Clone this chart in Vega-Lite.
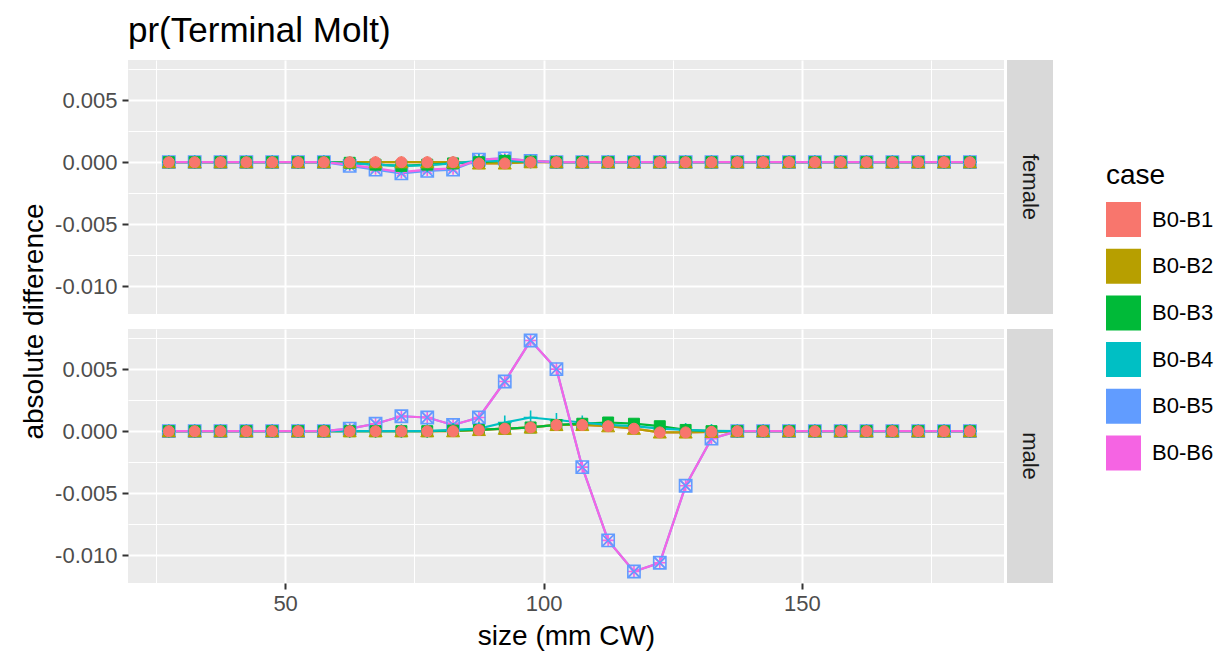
{
  "$schema": "https://vega.github.io/schema/vega-lite/v6.json",
  "padding": {"left": 20, "top": 14, "right": 5, "bottom": 5},
  "title": {"text": "pr(Terminal Molt)", "anchor": "start", "frame": "group", "fontSize": 35, "fontWeight": "normal", "color": "#000000", "font": "Liberation Sans", "offset": 11},
  "data": {"values": [
    {"sex":"female","size":27.5,"B0-B1":0,"B0-B2":0,"B0-B3":0,"B0-B4":0,"B0-B5":0,"B0-B6":0},
    {"sex":"female","size":32.5,"B0-B1":0,"B0-B2":0,"B0-B3":0,"B0-B4":0,"B0-B5":0,"B0-B6":0},
    {"sex":"female","size":37.5,"B0-B1":0,"B0-B2":0,"B0-B3":0,"B0-B4":0,"B0-B5":0,"B0-B6":0},
    {"sex":"female","size":42.5,"B0-B1":0,"B0-B2":0,"B0-B3":0,"B0-B4":0,"B0-B5":0,"B0-B6":0},
    {"sex":"female","size":47.5,"B0-B1":0,"B0-B2":0,"B0-B3":0,"B0-B4":0,"B0-B5":0,"B0-B6":0},
    {"sex":"female","size":52.5,"B0-B1":0,"B0-B2":0,"B0-B3":0,"B0-B4":0,"B0-B5":0,"B0-B6":0},
    {"sex":"female","size":57.5,"B0-B1":0,"B0-B2":0,"B0-B3":0,"B0-B4":0,"B0-B5":0,"B0-B6":0},
    {"sex":"female","size":62.5,"B0-B1":0,"B0-B2":0,"B0-B3":-0.00005,"B0-B4":-0.0001,"B0-B5":-0.0003,"B0-B6":-0.0002},
    {"sex":"female","size":67.5,"B0-B1":0,"B0-B2":0,"B0-B3":-0.0002,"B0-B4":-0.0002,"B0-B5":-0.0006,"B0-B6":-0.0005},
    {"sex":"female","size":72.5,"B0-B1":0,"B0-B2":0,"B0-B3":-0.0003,"B0-B4":-0.0003,"B0-B5":-0.0009,"B0-B6":-0.0008},
    {"sex":"female","size":77.5,"B0-B1":0,"B0-B2":0,"B0-B3":-0.0002,"B0-B4":-0.00025,"B0-B5":-0.0007,"B0-B6":-0.0006},
    {"sex":"female","size":82.5,"B0-B1":0,"B0-B2":0,"B0-B3":-0.0001,"B0-B4":-0.0001,"B0-B5":-0.0006,"B0-B6":-0.0005},
    {"sex":"female","size":87.5,"B0-B1":-0.0001,"B0-B2":-0.0001,"B0-B3":0,"B0-B4":0.0001,"B0-B5":0.0002,"B0-B6":0.0002},
    {"sex":"female","size":92.5,"B0-B1":-0.0001,"B0-B2":-0.0001,"B0-B3":0.0001,"B0-B4":0.0001,"B0-B5":0.0003,"B0-B6":0.0003},
    {"sex":"female","size":97.5,"B0-B1":0,"B0-B2":0,"B0-B3":0.00005,"B0-B4":0.00005,"B0-B5":0.0001,"B0-B6":0.0001},
    {"sex":"female","size":102.5,"B0-B1":0,"B0-B2":0,"B0-B3":0,"B0-B4":0,"B0-B5":0,"B0-B6":0},
    {"sex":"female","size":107.5,"B0-B1":0,"B0-B2":0,"B0-B3":0,"B0-B4":0,"B0-B5":0,"B0-B6":0},
    {"sex":"female","size":112.5,"B0-B1":0,"B0-B2":0,"B0-B3":0,"B0-B4":0,"B0-B5":0,"B0-B6":0},
    {"sex":"female","size":117.5,"B0-B1":0,"B0-B2":0,"B0-B3":0,"B0-B4":0,"B0-B5":0,"B0-B6":0},
    {"sex":"female","size":122.5,"B0-B1":0,"B0-B2":0,"B0-B3":0,"B0-B4":0,"B0-B5":0,"B0-B6":0},
    {"sex":"female","size":127.5,"B0-B1":0,"B0-B2":0,"B0-B3":0,"B0-B4":0,"B0-B5":0,"B0-B6":0},
    {"sex":"female","size":132.5,"B0-B1":0,"B0-B2":0,"B0-B3":0,"B0-B4":0,"B0-B5":0,"B0-B6":0},
    {"sex":"female","size":137.5,"B0-B1":0,"B0-B2":0,"B0-B3":0,"B0-B4":0,"B0-B5":0,"B0-B6":0},
    {"sex":"female","size":142.5,"B0-B1":0,"B0-B2":0,"B0-B3":0,"B0-B4":0,"B0-B5":0,"B0-B6":0},
    {"sex":"female","size":147.5,"B0-B1":0,"B0-B2":0,"B0-B3":0,"B0-B4":0,"B0-B5":0,"B0-B6":0},
    {"sex":"female","size":152.5,"B0-B1":0,"B0-B2":0,"B0-B3":0,"B0-B4":0,"B0-B5":0,"B0-B6":0},
    {"sex":"female","size":157.5,"B0-B1":0,"B0-B2":0,"B0-B3":0,"B0-B4":0,"B0-B5":0,"B0-B6":0},
    {"sex":"female","size":162.5,"B0-B1":0,"B0-B2":0,"B0-B3":0,"B0-B4":0,"B0-B5":0,"B0-B6":0},
    {"sex":"female","size":167.5,"B0-B1":0,"B0-B2":0,"B0-B3":0,"B0-B4":0,"B0-B5":0,"B0-B6":0},
    {"sex":"female","size":172.5,"B0-B1":0,"B0-B2":0,"B0-B3":0,"B0-B4":0,"B0-B5":0,"B0-B6":0},
    {"sex":"female","size":177.5,"B0-B1":0,"B0-B2":0,"B0-B3":0,"B0-B4":0,"B0-B5":0,"B0-B6":0},
    {"sex":"female","size":182.5,"B0-B1":0,"B0-B2":0,"B0-B3":0,"B0-B4":0,"B0-B5":0,"B0-B6":0},
    {"sex":"male","size":27.5,"B0-B1":0,"B0-B2":0,"B0-B3":0,"B0-B4":0,"B0-B5":0,"B0-B6":0},
    {"sex":"male","size":32.5,"B0-B1":0,"B0-B2":0,"B0-B3":0,"B0-B4":0,"B0-B5":0,"B0-B6":0},
    {"sex":"male","size":37.5,"B0-B1":0,"B0-B2":0,"B0-B3":0,"B0-B4":0,"B0-B5":0,"B0-B6":0},
    {"sex":"male","size":42.5,"B0-B1":0,"B0-B2":0,"B0-B3":0,"B0-B4":0,"B0-B5":0,"B0-B6":0},
    {"sex":"male","size":47.5,"B0-B1":0,"B0-B2":0,"B0-B3":0,"B0-B4":0,"B0-B5":0,"B0-B6":0},
    {"sex":"male","size":52.5,"B0-B1":0,"B0-B2":0,"B0-B3":0,"B0-B4":0,"B0-B5":0,"B0-B6":0},
    {"sex":"male","size":57.5,"B0-B1":0,"B0-B2":0,"B0-B3":0,"B0-B4":0,"B0-B5":0,"B0-B6":0},
    {"sex":"male","size":62.5,"B0-B1":0,"B0-B2":0,"B0-B3":0,"B0-B4":0,"B0-B5":0.0002,"B0-B6":0.0002},
    {"sex":"male","size":67.5,"B0-B1":0,"B0-B2":0,"B0-B3":0,"B0-B4":0,"B0-B5":0.0006,"B0-B6":0.0006},
    {"sex":"male","size":72.5,"B0-B1":0,"B0-B2":0,"B0-B3":0,"B0-B4":0,"B0-B5":0.0012,"B0-B6":0.0012},
    {"sex":"male","size":77.5,"B0-B1":0,"B0-B2":0,"B0-B3":0,"B0-B4":0,"B0-B5":0.0011,"B0-B6":0.0011},
    {"sex":"male","size":82.5,"B0-B1":0,"B0-B2":0,"B0-B3":0.00005,"B0-B4":0.0001,"B0-B5":0.0005,"B0-B6":0.0005},
    {"sex":"male","size":87.5,"B0-B1":0.0001,"B0-B2":0.0001,"B0-B3":0.0001,"B0-B4":0.0002,"B0-B5":0.0011,"B0-B6":0.0011},
    {"sex":"male","size":92.5,"B0-B1":0.0002,"B0-B2":0.0002,"B0-B3":0.0002,"B0-B4":0.0007,"B0-B5":0.004,"B0-B6":0.004},
    {"sex":"male","size":97.5,"B0-B1":0.0003,"B0-B2":0.0003,"B0-B3":0.0003,"B0-B4":0.0011,"B0-B5":0.0073,"B0-B6":0.0073},
    {"sex":"male","size":102.5,"B0-B1":0.0005,"B0-B2":0.0005,"B0-B3":0.0005,"B0-B4":0.0009,"B0-B5":0.005,"B0-B6":0.005},
    {"sex":"male","size":107.5,"B0-B1":0.0005,"B0-B2":0.0005,"B0-B3":0.0006,"B0-B4":0.0007,"B0-B5":-0.0029,"B0-B6":-0.0029},
    {"sex":"male","size":112.5,"B0-B1":0.0004,"B0-B2":0.0004,"B0-B3":0.0007,"B0-B4":0.0005,"B0-B5":-0.0088,"B0-B6":-0.0088},
    {"sex":"male","size":117.5,"B0-B1":0.0002,"B0-B2":0.0002,"B0-B3":0.0006,"B0-B4":0.0004,"B0-B5":-0.0113,"B0-B6":-0.0113},
    {"sex":"male","size":122.5,"B0-B1":-0.0001,"B0-B2":-0.0001,"B0-B3":0.0004,"B0-B4":0.0002,"B0-B5":-0.0106,"B0-B6":-0.0106},
    {"sex":"male","size":127.5,"B0-B1":-0.0001,"B0-B2":-0.0001,"B0-B3":0.0001,"B0-B4":0.0001,"B0-B5":-0.0044,"B0-B6":-0.0044},
    {"sex":"male","size":132.5,"B0-B1":-0.00005,"B0-B2":-0.00005,"B0-B3":0,"B0-B4":0.00003,"B0-B5":-0.0006,"B0-B6":-0.0006},
    {"sex":"male","size":137.5,"B0-B1":0,"B0-B2":0,"B0-B3":0,"B0-B4":0,"B0-B5":0,"B0-B6":0},
    {"sex":"male","size":142.5,"B0-B1":0,"B0-B2":0,"B0-B3":0,"B0-B4":0,"B0-B5":0,"B0-B6":0},
    {"sex":"male","size":147.5,"B0-B1":0,"B0-B2":0,"B0-B3":0,"B0-B4":0,"B0-B5":0,"B0-B6":0},
    {"sex":"male","size":152.5,"B0-B1":0,"B0-B2":0,"B0-B3":0,"B0-B4":0,"B0-B5":0,"B0-B6":0},
    {"sex":"male","size":157.5,"B0-B1":0,"B0-B2":0,"B0-B3":0,"B0-B4":0,"B0-B5":0,"B0-B6":0},
    {"sex":"male","size":162.5,"B0-B1":0,"B0-B2":0,"B0-B3":0,"B0-B4":0,"B0-B5":0,"B0-B6":0},
    {"sex":"male","size":167.5,"B0-B1":0,"B0-B2":0,"B0-B3":0,"B0-B4":0,"B0-B5":0,"B0-B6":0},
    {"sex":"male","size":172.5,"B0-B1":0,"B0-B2":0,"B0-B3":0,"B0-B4":0,"B0-B5":0,"B0-B6":0},
    {"sex":"male","size":177.5,"B0-B1":0,"B0-B2":0,"B0-B3":0,"B0-B4":0,"B0-B5":0,"B0-B6":0},
    {"sex":"male","size":182.5,"B0-B1":0,"B0-B2":0,"B0-B3":0,"B0-B4":0,"B0-B5":0,"B0-B6":0}
  ]},
  "bounds": "flush",
  "columns": 2,
  "spacing": {"row": 15, "column": 3},
  "resolve": {"scale": {"color": "shared", "fill": "shared", "stroke": "shared"}, "legend": {"color": "shared"}},
  "concat": [
    {
      "width": 876, "height": 254,
      "transform": [
        {"fold": ["B0-B1","B0-B2","B0-B3","B0-B4","B0-B5","B0-B6"], "as": ["case","diff"]},
        {"filter": "datum.sex === 'female'"}
      ],
      "encoding": {
        "x": {"field": "size", "type": "quantitative", "scale": {"domain": [19.6, 189.1], "nice": false, "zero": false},
              "axis": {"values": [25,50,75,100,125,150,175], "labels": false, "ticks": false, "title": null, "domain": false,
                       "gridWidth": {"condition": {"test": "datum.value % 50 === 0", "value": 2}, "value": 1}}},
        "y": {"field": "diff", "type": "quantitative", "scale": {"domain": [-0.01223, 0.00823], "nice": false, "zero": false},
              "axis": {"values": [-0.01,-0.0075,-0.005,-0.0025,0,0.0025,0.005,0.0075],
                       "labelExpr": "abs(round(datum.value*10000)) % 50 === 0 ? replace(format(datum.value, '.3f'), '\u2212', '-') : ''",
                       "tickOpacity": {"condition": {"test": "abs(round(datum.value*10000)) % 50 === 0", "value": 1}, "value": 0},
                       "gridWidth": {"condition": {"test": "abs(round(datum.value*10000)) % 50 === 0", "value": 2}, "value": 1},
                       "title": "absolute difference", "titleX": -86, "titleY": 261, "titleAlign": "center", "titleBaseline": "alphabetic"}}
      },
      "layer": [
        {"mark": {"type": "line", "strokeWidth": 2.2},
         "encoding": {
           "color": {"field": "case", "type": "nominal", "title": "case",
             "scale": {"domain": ["B0-B1","B0-B2","B0-B3","B0-B4","B0-B5","B0-B6"], "range": ["#F8766D","#B79F00","#00BA38","#00BFC4","#619CFF","#F564E3"]},
             "legend": {"orient": "none", "legendX": 978, "legendY": 102, "symbolType": "square", "symbolSize": 1225, "symbolStrokeWidth": 0,
                        "encode": {"symbols": {"update": {"fill": {"scale": "color", "field": "value"}, "fillOpacity": {"value": 1}, "stroke": {"value": "transparent"}}}}}}}},
        {"encoding": {
           "fill": {"field": "case", "type": "nominal", "scale": {"domain": ["B0-B1","B0-B2","B0-B3","B0-B4","B0-B5","B0-B6"], "range": ["#F8766D","#B79F00","#00BA38","#00BFC4","#619CFF","#F564E3"]}, "legend": null},
           "stroke": {"field": "case", "type": "nominal", "scale": {"domain": ["B0-B1","B0-B2","B0-B3","B0-B4","B0-B5","B0-B6"], "range": ["#F8766D","#B79F00","#00BA38","#00BFC4","#619CFF","#F564E3"]}, "legend": null}
         },
         "layer": [
          {"transform": [{"filter": "datum['case'] === 'B0-B6'"}],
           "mark": {"type": "point", "shape": "M-1,0H1M0,-1V1M-0.7,-0.7L0.7,0.7M-0.7,0.7L0.7,-0.7", "filled": true, "size": 160, "strokeWidth": 1.6, "opacity": 1}},
          {"transform": [{"filter": "datum['case'] === 'B0-B5'"}],
           "mark": {"type": "point", "shape": "M-1,-1H1V1H-1ZM-1,-1L1,1M-1,1L1,-1", "filled": true, "fillOpacity": 0, "size": 150, "strokeWidth": 1.6, "opacity": 1}},
          {"transform": [{"filter": "datum['case'] === 'B0-B4'"}],
           "mark": {"type": "point", "shape": "M-1,0H1M0,-1V1", "filled": true, "size": 190, "strokeWidth": 1.6, "opacity": 1}},
          {"transform": [{"filter": "datum['case'] === 'B0-B3'"}],
           "mark": {"type": "point", "shape": "square", "filled": true, "size": 120, "strokeWidth": 1, "opacity": 1}},
          {"transform": [{"filter": "datum['case'] === 'B0-B2'"}],
           "mark": {"type": "point", "shape": "triangle-up", "filled": true, "size": 170, "strokeWidth": 1, "opacity": 1}},
          {"transform": [{"filter": "datum['case'] === 'B0-B1'"}],
           "mark": {"type": "point", "shape": "circle", "filled": true, "size": 120, "strokeWidth": 1, "opacity": 1}}
         ]}
      ]
    },
    {
      "width": 46, "height": 254,
      "data": {"values": [{"label": "female"}]},
      "view": {"fill": "#d9d9d9", "stroke": null},
      "mark": {"type": "text", "angle": 90, "fontSize": 22, "color": "#1a1a1a", "align": "center", "baseline": "middle"},
      "encoding": {
        "text": {"field": "label"},
        "x": {"datum": 0.5, "type": "quantitative", "scale": {"domain": [0, 1]}, "axis": null},
        "y": {"datum": 0.5, "type": "quantitative", "scale": {"domain": [0, 1]}, "axis": null}
      }
    },
    {
      "width": 876, "height": 254,
      "transform": [
        {"fold": ["B0-B1","B0-B2","B0-B3","B0-B4","B0-B5","B0-B6"], "as": ["case","diff"]},
        {"filter": "datum.sex === 'male'"}
      ],
      "encoding": {
        "x": {"field": "size", "type": "quantitative", "scale": {"domain": [19.6, 189.1], "nice": false, "zero": false},
              "axis": {"values": [25,50,75,100,125,150,175], "title": "size (mm CW)", "domain": false,
                       "labelExpr": "datum.value % 50 === 0 ? datum.label : ''",
                       "tickOpacity": {"condition": {"test": "datum.value % 50 === 0", "value": 1}, "value": 0},
                       "gridWidth": {"condition": {"test": "datum.value % 50 === 0", "value": 2}, "value": 1},
                       "labelPadding": 4, "titlePadding": 8}},
        "y": {"field": "diff", "type": "quantitative", "scale": {"domain": [-0.01223, 0.00823], "nice": false, "zero": false},
              "axis": {"values": [-0.01,-0.0075,-0.005,-0.0025,0,0.0025,0.005,0.0075],
                       "labelExpr": "abs(round(datum.value*10000)) % 50 === 0 ? replace(format(datum.value, '.3f'), '\u2212', '-') : ''",
                       "tickOpacity": {"condition": {"test": "abs(round(datum.value*10000)) % 50 === 0", "value": 1}, "value": 0},
                       "gridWidth": {"condition": {"test": "abs(round(datum.value*10000)) % 50 === 0", "value": 2}, "value": 1},
                       "title": null}}
      },
      "layer": [
        {"mark": {"type": "line", "strokeWidth": 2.2},
         "encoding": {
           "color": {"field": "case", "type": "nominal", "title": "case",
             "scale": {"domain": ["B0-B1","B0-B2","B0-B3","B0-B4","B0-B5","B0-B6"], "range": ["#F8766D","#B79F00","#00BA38","#00BFC4","#619CFF","#F564E3"]},
             "legend": {"orient": "none", "legendX": 978, "legendY": 102, "symbolType": "square", "symbolSize": 1225, "symbolStrokeWidth": 0,
                        "encode": {"symbols": {"update": {"fill": {"scale": "color", "field": "value"}, "fillOpacity": {"value": 1}, "stroke": {"value": "transparent"}}}}}}}},
        {"encoding": {
           "fill": {"field": "case", "type": "nominal", "scale": {"domain": ["B0-B1","B0-B2","B0-B3","B0-B4","B0-B5","B0-B6"], "range": ["#F8766D","#B79F00","#00BA38","#00BFC4","#619CFF","#F564E3"]}, "legend": null},
           "stroke": {"field": "case", "type": "nominal", "scale": {"domain": ["B0-B1","B0-B2","B0-B3","B0-B4","B0-B5","B0-B6"], "range": ["#F8766D","#B79F00","#00BA38","#00BFC4","#619CFF","#F564E3"]}, "legend": null}
         },
         "layer": [
          {"transform": [{"filter": "datum['case'] === 'B0-B6'"}],
           "mark": {"type": "point", "shape": "M-1,0H1M0,-1V1M-0.7,-0.7L0.7,0.7M-0.7,0.7L0.7,-0.7", "filled": true, "size": 160, "strokeWidth": 1.6, "opacity": 1}},
          {"transform": [{"filter": "datum['case'] === 'B0-B5'"}],
           "mark": {"type": "point", "shape": "M-1,-1H1V1H-1ZM-1,-1L1,1M-1,1L1,-1", "filled": true, "fillOpacity": 0, "size": 150, "strokeWidth": 1.6, "opacity": 1}},
          {"transform": [{"filter": "datum['case'] === 'B0-B4'"}],
           "mark": {"type": "point", "shape": "M-1,0H1M0,-1V1", "filled": true, "size": 190, "strokeWidth": 1.6, "opacity": 1}},
          {"transform": [{"filter": "datum['case'] === 'B0-B3'"}],
           "mark": {"type": "point", "shape": "square", "filled": true, "size": 120, "strokeWidth": 1, "opacity": 1}},
          {"transform": [{"filter": "datum['case'] === 'B0-B2'"}],
           "mark": {"type": "point", "shape": "triangle-up", "filled": true, "size": 170, "strokeWidth": 1, "opacity": 1}},
          {"transform": [{"filter": "datum['case'] === 'B0-B1'"}],
           "mark": {"type": "point", "shape": "circle", "filled": true, "size": 120, "strokeWidth": 1, "opacity": 1}}
         ]}
      ]
    },
    {
      "width": 46, "height": 254,
      "data": {"values": [{"label": "male"}]},
      "view": {"fill": "#d9d9d9", "stroke": null},
      "mark": {"type": "text", "angle": 90, "fontSize": 22, "color": "#1a1a1a", "align": "center", "baseline": "middle"},
      "encoding": {
        "text": {"field": "label"},
        "x": {"datum": 0.5, "type": "quantitative", "scale": {"domain": [0, 1]}, "axis": null},
        "y": {"datum": 0.5, "type": "quantitative", "scale": {"domain": [0, 1]}, "axis": null}
      }
    }
  ],
  "config": {
    "font": "Liberation Sans",
    "view": {"fill": "#ebebeb", "stroke": null},
    "axis": {"domain": false, "labelFont": "Liberation Sans", "labelFontSize": 22, "labelColor": "#4d4d4d", "labelPadding": 5,
             "tickColor": "#333333", "tickSize": 6, "tickWidth": 2, "gridColor": "#ffffff",
             "titleFont": "Liberation Sans", "titleFontSize": 28, "titleFontWeight": "normal", "titleColor": "#000000"},
    "legend": {"titleFont": "Liberation Sans", "titleFontSize": 28, "titleFontWeight": "normal", "titleColor": "#000000", "titlePadding": 12,
               "labelFont": "Liberation Sans", "labelFontSize": 22, "labelColor": "#000000", "labelOffset": 11, "rowPadding": 11.7, "padding": 0}
  }
}
